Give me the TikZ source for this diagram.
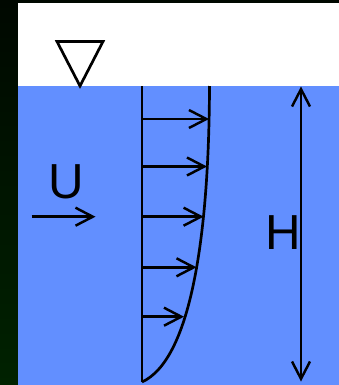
\documentclass[tikz,border=0pt]{standalone}
\usepackage{fontspec}
\setmainfont{Liberation Sans}
\usetikzlibrary{arrows.meta}
\definecolor{water}{RGB}{98,143,255}
\definecolor{darktop}{RGB}{0,8,0}
\definecolor{darkbot}{RGB}{0,34,0}
\tikzset{
  line/.style={line width=2.3pt, draw=black},
  vec/.style={line width=2.1pt, draw=black, -{Straight Barb[length=5.2mm, width=5.4mm, line width=2.1pt]}},
  dimarrow/.style={line width=2.1pt, draw=black, {Straight Barb[length=5.2mm, width=5.4mm, line width=2.1pt]}-{Straight Barb[length=5.2mm, width=5.4mm, line width=2.1pt]}},
  lbl/.style={inner sep=0pt, font=\fontsize{42}{42}\selectfont}
}
\begin{document}
\begin{tikzpicture}[x=0.03cm, y=-0.03cm]
\useasboundingbox (0,0) rectangle (339,385);
% background
\shade[top color=darktop, bottom color=darkbot] (0,0) rectangle (339,385);
\fill[white] (18,3) rectangle (339,86);
\fill[water] (18,86) rectangle (339,385);
% free surface symbol
\coordinate (t1) at (57,41.5);
\coordinate (t2) at (103,41.5);
\coordinate (t3) at (80,86);
\draw[line, line join=miter] (t1) -- (t2) -- (t3) -- cycle;
% wall / axis line
\coordinate (top) at (142,86);
\coordinate (bot) at (142,382);
\draw[line] (top) -- (bot);
% velocity profile
\coordinate (p0) at (142,382);
\coordinate (p3) at (209.5,86);
\draw[line] (p0) .. controls (190,360) and (209,240) .. (p3);
% arrows
\coordinate (a1) at (142,119);   \coordinate (b1) at (209,119);
\coordinate (a2) at (142,166.5); \coordinate (b2) at (207,166.5);
\coordinate (a3) at (142,216.7); \coordinate (b3) at (203.6,216.7);
\coordinate (a4) at (142,267.3); \coordinate (b4) at (196.5,267.3);
\coordinate (a5) at (142,316.7); \coordinate (b5) at (184,316.7);
\foreach \i in {1,...,5} { \draw[vec] (a\i) -- (b\i); }
% U
\node[lbl] (U) at (66.7,182) {U};
\coordinate (u1) at (31.7,216.7);
\coordinate (u2) at (95.5,216.7);
\draw[vec] (u1) -- (u2);
% H
\node[lbl] (H) at (283,232.5) {H};
\coordinate (h1) at (301,86.5);
\coordinate (h2) at (301,381.5);
\draw[dimarrow] (h1) -- (h2);
\end{tikzpicture}
\end{document}
